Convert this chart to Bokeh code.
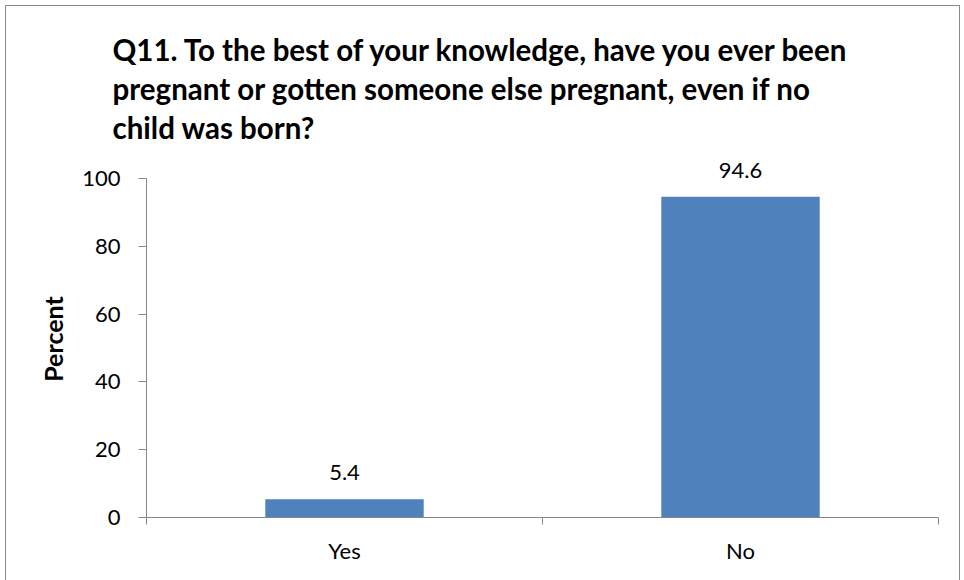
from bokeh.plotting import figure
from bokeh.models import FixedTicker, LabelSet, ColumnDataSource, Range1d
from bokeh.core.properties import value
from bokeh.embed import file_html
from bokeh.resources import INLINE

categories = ["Yes", "No"]
values = [5.4, 94.6]
y_ticks = [0, 20, 40, 60, 80, 100]
title_text = ("Q11. To the best of your knowledge, have you ever been\n"
              "pregnant or gotten someone else pregnant, even if no\n"
              "child was born?")

FONT = "Lato"
AXIS_COLOR = "#868686"

xs = [i + 0.5 for i in range(len(categories))]
src = ColumnDataSource(dict(x=xs, top=values, label=[f"{v:.1f}" for v in values]))

p = figure(width=955, height=575, output_backend="svg", toolbar_location=None,
           x_range=Range1d(0, len(categories)), y_range=Range1d(0, 105.3))
p.min_border_left = 140
p.min_border_right = 23
p.min_border_bottom = 64
p.min_border_top = 154
p.outline_line_color = None
p.xgrid.grid_line_color = None
p.ygrid.grid_line_color = None
p.styles = {"border-top": "1px solid #898989", "border-left": "1px solid #898989",
            "border-right": "1px solid #898989",
            "margin-left": "5px", "margin-top": "5px"}

p.title.text = title_text
p.title.align = "left"
p.title.text_font = FONT
p.title.text_font_size = "29.5px"
p.title.text_font_style = "bold"
p.title.text_color = "black"
p.title.text_line_height = 1.12
p.title.offset = -34
p.title.standoff = 31

p.vbar(x="x", top="top", width=0.4, bottom=0, source=src,
       fill_color="#4F81BD", line_color=None)

labels = LabelSet(x="x", y="top", text="label", source=src, text_align="center",
                  text_baseline="alphabetic", y_offset=19, text_font=value(FONT),
                  text_font_size=value("22px"), text_color="black")
p.add_layout(labels)

ya = p.yaxis[0]
ya.ticker = FixedTicker(ticks=y_ticks)
ya.bounds = (y_ticks[0], y_ticks[-1])
ya.major_tick_in = 0
ya.major_tick_out = 8
ya.minor_tick_in = 0
ya.minor_tick_out = 0
ya.axis_line_color = AXIS_COLOR
ya.major_tick_line_color = AXIS_COLOR
ya.major_label_text_font = FONT
ya.major_label_text_font_size = "22px"
ya.major_label_text_color = "black"
ya.major_label_standoff = 18
ya.axis_label = "Percent"
ya.axis_label_text_font = FONT
ya.axis_label_text_font_size = "25px"
ya.axis_label_text_font_style = "bold"
ya.axis_label_text_color = "black"
ya.axis_label_standoff = 11

xa = p.xaxis[0]
xa.ticker = FixedTicker(ticks=xs, minor_ticks=list(range(len(categories) + 1)))
xa.major_label_overrides = {x: c for x, c in zip(xs, categories)}
xa.major_tick_in = 0
xa.major_tick_out = 0
xa.minor_tick_in = 0
xa.minor_tick_out = 7
xa.minor_tick_line_color = AXIS_COLOR
xa.axis_line_color = AXIS_COLOR
xa.major_label_text_font = FONT
xa.major_label_text_font_size = "22px"
xa.major_label_text_color = "black"
xa.major_label_standoff = 12

open("out.html", "w").write(file_html(p, INLINE))
